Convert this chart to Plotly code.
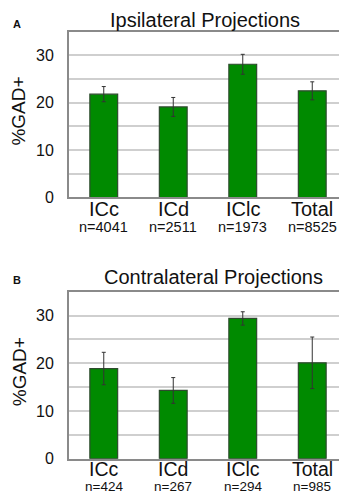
import plotly.graph_objects as go

categories = ["ICc", "ICd", "IClc", "Total"]
ipsi_values = [21.8, 19.1, 28.1, 22.5]
ipsi_err = [1.6, 2.0, 2.1, 1.9]
ipsi_n = ["n=4041", "n=2511", "n=1973", "n=8525"]
contra_values = [18.9, 14.3, 29.4, 20.1]
contra_err = [3.4, 2.7, 1.4, 5.4]
contra_n = ["n=424", "n=267", "n=294", "n=985"]
panel_titles = ["Ipsilateral Projections", "Contralateral Projections"]
panel_letters = ["A", "B"]
y_tickvals = [0, 5, 10, 15, 20, 25, 30]
y_ticktext = ["0", "", "10", "", "20", "", "30"]

W, H = 347, 495
FONT = "Liberation Sans, Arial, sans-serif"
BAR = "#008a00"
BAR_LINE = "#2e4a2e"

def py(px):
    return 1 - px / H

x_dom = [61 / W, 339 / W]
panels = [
    dict(vals=ipsi_values, err=ipsi_err, n=ipsi_n, top=24, bot=193, xa="x", ya="y",
         title_x=196.5, title_y=12, letter_y=16, cat_dy=12, n_dy=30, cat_fs=20, n_fs=14.5),
    dict(vals=contra_values, err=contra_err, n=contra_n, top=289, bot=459, xa="x2", ya="y2",
         title_x=205.5, title_y=274, letter_y=277, cat_dy=11, n_dy=28.5, cat_fs=19.5, n_fs=13.5),
]

fig = go.Figure()
annotations = []
for i, p in enumerate(panels):
    fig.add_trace(go.Bar(
        x=categories, y=p["vals"], xaxis=p["xa"], yaxis=p["ya"],
        marker=dict(color=BAR, line=dict(color=BAR_LINE, width=1.2)),
        error_y=dict(type="data", array=p["err"], visible=True,
                     color="#333333", thickness=1, width=2),
        showlegend=False,
    ))
    for c, t in zip(categories, p["n"]):
        annotations.append(dict(
            x=c, y=py(p["bot"] + p["cat_dy"]), xref=p["xa"], yref="paper",
            text=c, showarrow=False, font=dict(size=p["cat_fs"], color="#111", family=FONT),
            xanchor="center", yanchor="middle"))
        annotations.append(dict(
            x=c, y=py(p["bot"] + p["n_dy"]), xref=p["xa"], yref="paper",
            text=t, showarrow=False, font=dict(size=p["n_fs"], color="#111", family=FONT),
            xanchor="center", yanchor="middle"))
    annotations.append(dict(
        x=p["title_x"] / W, y=py(p["title_y"]),
        xref="paper", yref="paper", text=panel_titles[i], showarrow=False,
        font=dict(size=20, color="#111", family=FONT), xanchor="center", yanchor="middle"))
    annotations.append(dict(
        x=9 / W, y=py(p["letter_y"]), xref="paper", yref="paper",
        text="<b>%s</b>" % panel_letters[i], showarrow=False,
        font=dict(size=11, color="#111", family=FONT), xanchor="center", yanchor="middle"))
    annotations.append(dict(
        x=11 / W, y=py((p["top"] + p["bot"]) / 2 - 3), xref="paper", yref="paper",
        text="%GAD+", textangle=-90, showarrow=False,
        font=dict(size=19, color="#111", family=FONT), xanchor="center", yanchor="middle"))

axis_common_x = dict(
    showline=True, linecolor="#8a8a8a", linewidth=2, mirror=True,
    showticklabels=False, ticks="", showgrid=False, fixedrange=True,
)
axis_common_y = dict(
    range=[0, 35], tickvals=y_tickvals, ticktext=y_ticktext,
    showgrid=True, gridcolor="#cfcfcf", gridwidth=1.5,
    showline=True, linecolor="#8a8a8a", linewidth=2, mirror=True,
    tickfont=dict(size=16, color="#111", family=FONT), ticks="", ticklabelstandoff=10,
    zeroline=False,
)

fig.update_layout(
    width=W, height=H,
    margin=dict(l=0, r=0, t=0, b=0),
    paper_bgcolor="white", plot_bgcolor="white",
    bargap=0.6,
    xaxis=dict(domain=x_dom, anchor="y", **axis_common_x),
    yaxis=dict(domain=[py(193), py(24)], anchor="x", **axis_common_y),
    xaxis2=dict(domain=x_dom, anchor="y2", **axis_common_x),
    yaxis2=dict(domain=[py(459), py(289)], anchor="x2", **axis_common_y),
    annotations=annotations,
    font=dict(family=FONT),
)

fig.write_html("out.html")
